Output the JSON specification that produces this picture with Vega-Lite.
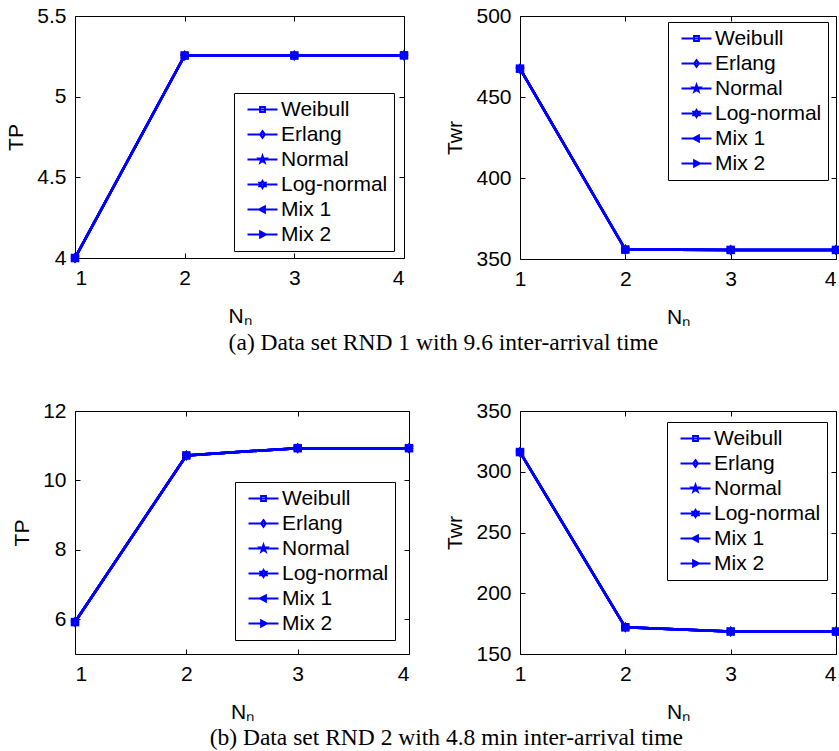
{
  "$schema": "https://vega.github.io/schema/vega-lite/v6.json",
  "padding": {"left": 5, "top": 4, "right": 0, "bottom": 2},
  "background": "white",
  "datasets": {
    "p1": [
      {"series": "Weibull", "Nn": 1, "v": 4.0}, {"series": "Weibull", "Nn": 2, "v": 5.255}, {"series": "Weibull", "Nn": 3, "v": 5.255}, {"series": "Weibull", "Nn": 4, "v": 5.256},
      {"series": "Erlang", "Nn": 1, "v": 4.0}, {"series": "Erlang", "Nn": 2, "v": 5.255}, {"series": "Erlang", "Nn": 3, "v": 5.255}, {"series": "Erlang", "Nn": 4, "v": 5.256},
      {"series": "Normal", "Nn": 1, "v": 4.0}, {"series": "Normal", "Nn": 2, "v": 5.255}, {"series": "Normal", "Nn": 3, "v": 5.255}, {"series": "Normal", "Nn": 4, "v": 5.256},
      {"series": "Log-normal", "Nn": 1, "v": 4.0}, {"series": "Log-normal", "Nn": 2, "v": 5.255}, {"series": "Log-normal", "Nn": 3, "v": 5.255}, {"series": "Log-normal", "Nn": 4, "v": 5.256},
      {"series": "Mix 1", "Nn": 1, "v": 4.0}, {"series": "Mix 1", "Nn": 2, "v": 5.255}, {"series": "Mix 1", "Nn": 3, "v": 5.255}, {"series": "Mix 1", "Nn": 4, "v": 5.256},
      {"series": "Mix 2", "Nn": 1, "v": 4.0}, {"series": "Mix 2", "Nn": 2, "v": 5.255}, {"series": "Mix 2", "Nn": 3, "v": 5.255}, {"series": "Mix 2", "Nn": 4, "v": 5.256}
    ],
    "p2": [
      {"series": "Weibull", "Nn": 1, "v": 467.5}, {"series": "Weibull", "Nn": 2, "v": 355.8}, {"series": "Weibull", "Nn": 3, "v": 355.6}, {"series": "Weibull", "Nn": 4, "v": 355.6},
      {"series": "Erlang", "Nn": 1, "v": 467.5}, {"series": "Erlang", "Nn": 2, "v": 355.8}, {"series": "Erlang", "Nn": 3, "v": 355.6}, {"series": "Erlang", "Nn": 4, "v": 355.6},
      {"series": "Normal", "Nn": 1, "v": 467.5}, {"series": "Normal", "Nn": 2, "v": 355.8}, {"series": "Normal", "Nn": 3, "v": 355.6}, {"series": "Normal", "Nn": 4, "v": 355.6},
      {"series": "Log-normal", "Nn": 1, "v": 467.5}, {"series": "Log-normal", "Nn": 2, "v": 355.8}, {"series": "Log-normal", "Nn": 3, "v": 355.6}, {"series": "Log-normal", "Nn": 4, "v": 355.6},
      {"series": "Mix 1", "Nn": 1, "v": 467.5}, {"series": "Mix 1", "Nn": 2, "v": 355.8}, {"series": "Mix 1", "Nn": 3, "v": 355.6}, {"series": "Mix 1", "Nn": 4, "v": 355.6},
      {"series": "Mix 2", "Nn": 1, "v": 467.5}, {"series": "Mix 2", "Nn": 2, "v": 355.8}, {"series": "Mix 2", "Nn": 3, "v": 355.6}, {"series": "Mix 2", "Nn": 4, "v": 355.6}
    ],
    "p3": [
      {"series": "Weibull", "Nn": 1, "v": 5.92}, {"series": "Weibull", "Nn": 2, "v": 10.72}, {"series": "Weibull", "Nn": 3, "v": 10.93}, {"series": "Weibull", "Nn": 4, "v": 10.93},
      {"series": "Erlang", "Nn": 1, "v": 5.92}, {"series": "Erlang", "Nn": 2, "v": 10.72}, {"series": "Erlang", "Nn": 3, "v": 10.93}, {"series": "Erlang", "Nn": 4, "v": 10.93},
      {"series": "Normal", "Nn": 1, "v": 5.92}, {"series": "Normal", "Nn": 2, "v": 10.72}, {"series": "Normal", "Nn": 3, "v": 10.93}, {"series": "Normal", "Nn": 4, "v": 10.93},
      {"series": "Log-normal", "Nn": 1, "v": 5.92}, {"series": "Log-normal", "Nn": 2, "v": 10.72}, {"series": "Log-normal", "Nn": 3, "v": 10.93}, {"series": "Log-normal", "Nn": 4, "v": 10.93},
      {"series": "Mix 1", "Nn": 1, "v": 5.92}, {"series": "Mix 1", "Nn": 2, "v": 10.72}, {"series": "Mix 1", "Nn": 3, "v": 10.93}, {"series": "Mix 1", "Nn": 4, "v": 10.93},
      {"series": "Mix 2", "Nn": 1, "v": 5.92}, {"series": "Mix 2", "Nn": 2, "v": 10.72}, {"series": "Mix 2", "Nn": 3, "v": 10.93}, {"series": "Mix 2", "Nn": 4, "v": 10.93}
    ],
    "p4": [
      {"series": "Weibull", "Nn": 1, "v": 316.2}, {"series": "Weibull", "Nn": 2, "v": 172.0}, {"series": "Weibull", "Nn": 3, "v": 168.5}, {"series": "Weibull", "Nn": 4, "v": 168.5},
      {"series": "Erlang", "Nn": 1, "v": 316.2}, {"series": "Erlang", "Nn": 2, "v": 172.0}, {"series": "Erlang", "Nn": 3, "v": 168.5}, {"series": "Erlang", "Nn": 4, "v": 168.5},
      {"series": "Normal", "Nn": 1, "v": 316.2}, {"series": "Normal", "Nn": 2, "v": 172.0}, {"series": "Normal", "Nn": 3, "v": 168.5}, {"series": "Normal", "Nn": 4, "v": 168.5},
      {"series": "Log-normal", "Nn": 1, "v": 316.2}, {"series": "Log-normal", "Nn": 2, "v": 172.0}, {"series": "Log-normal", "Nn": 3, "v": 168.5}, {"series": "Log-normal", "Nn": 4, "v": 168.5},
      {"series": "Mix 1", "Nn": 1, "v": 316.2}, {"series": "Mix 1", "Nn": 2, "v": 172.0}, {"series": "Mix 1", "Nn": 3, "v": 168.5}, {"series": "Mix 1", "Nn": 4, "v": 168.5},
      {"series": "Mix 2", "Nn": 1, "v": 316.2}, {"series": "Mix 2", "Nn": 2, "v": 172.0}, {"series": "Mix 2", "Nn": 3, "v": 168.5}, {"series": "Mix 2", "Nn": 4, "v": 168.5}
    ]
  },
  "config": {
    "view": {"stroke": "black", "strokeWidth": 1},
    "font": "Liberation Sans",
    "axis": {
      "labelFont": "Liberation Sans", "labelFontSize": 21, "labelColor": "black",
      "titleFont": "Liberation Sans", "titleFontSize": 21, "titleFontWeight": "normal", "titleColor": "black",
      "domain": false, "grid": false, "ticks": true, "tickSize": -5, "tickColor": "black", "tickWidth": 1,
      "labelPadding": 14, "titlePadding": 10
    },
    "axisX": {"titlePadding": 17},
    "legend": {
      "labelFont": "Liberation Sans", "labelFontSize": 21, "labelColor": "black",
      "strokeColor": "black", "fillColor": "white", "padding": 6, "rowPadding": 3,
      "symbolSize": 36, "symbolOffset": 12, "labelOffset": 8, "symbolStrokeWidth": 2,
      "symbolStrokeColor": "#0000ff", "symbolFillColor": "#0000ff", "labelLimit": 400,
      "labelExpr": "datum.label + '  '"
    }
  },
  "spacing": 45,
  "vconcat": [
    {
      "title": {"text": "(a) Data set RND 1 with 9.6 inter-arrival time", "orient": "bottom", "anchor": "middle", "font": "Liberation Serif", "fontSize": 23.5, "fontWeight": "normal", "color": "black", "offset": 3, "dx": 20},
      "spacing": 34,
      "hconcat": [
        {
          "width": 329, "height": 242,
          "data": {"name": "p1"},
          "layer": [
            {"mark": {"type": "line", "color": "#0000ff", "strokeWidth": 2.5},
             "encoding": {
               "x": {"field": "Nn", "type": "quantitative", "scale": {"domain": [1, 4], "nice": false, "zero": false}, "axis": {"values": [1, 2, 3, 4], "format": "d", "title": "Nₙ"}},
               "y": {"field": "v", "type": "quantitative", "scale": {"domain": [4, 5.5], "nice": false, "zero": false}, "axis": {"values": [4, 4.5, 5, 5.5], "format": "~g", "title": "TP"}},
               "detail": {"field": "series"}}},
            {"mark": {"type": "point", "filled": true, "color": "#0000ff", "size": 72, "opacity": 1},
             "encoding": {
               "x": {"field": "Nn", "type": "quantitative", "axis": null},
               "y": {"field": "v", "type": "quantitative", "axis": null},
               "shape": {"field": "series", "type": "nominal", "legend": null, "scale": {"domain": ["Weibull", "Erlang", "Normal", "Log-normal", "Mix 1", "Mix 2"], "range": ["M-1,-1H1V1H-1Z", "M0,-1.3L1,0L0,1.3L-1,0Z", "M0,-1.2L0.27,-0.372L1.141,-0.371L0.437,0.142L0.705,0.971L0,0.46L-0.705,0.971L-0.437,0.142L-1.141,-0.371L-0.27,-0.372Z", "M0,-1.2L0.346,-0.6L1.039,-0.6L0.693,0L1.039,0.6L0.346,0.6L0,1.2L-0.346,0.6L-1.039,0.6L-0.693,0L-1.039,-0.6L-0.346,-0.6Z", "M-1.1,0L0.8,-1L0.8,1Z", "M1.1,0L-0.8,-1L-0.8,1Z"]}}}},
            {"transform": [{"filter": "false"}],
             "mark": {"type": "point", "filled": false, "stroke": "#0000ff", "strokeWidth": 2, "opacity": 1},
             "encoding": {
               "x": {"field": "Nn", "type": "quantitative", "axis": {"orient": "top", "labels": false, "title": null, "values": [1, 2, 3, 4]}},
               "y": {"field": "v", "type": "quantitative", "axis": {"orient": "right", "labels": false, "title": null, "values": [4, 4.5, 5, 5.5]}},
               "shape": {"field": "series", "type": "nominal", "legend": {"title": null, "orient": "none", "legendX": 159, "legendY": 77, "encode": {"symbols": {"update": {"stroke": {"value": "#0000ff"}, "strokeWidth": {"value": 2}, "fill": {"value": "#0000ff"}, "opacity": {"value": 1}}}}}, "scale": {"domain": ["Weibull", "Erlang", "Normal", "Log-normal", "Mix 1", "Mix 2"], "range": ["M-5,0L5,0M-0.8,-0.8L0.8,-0.8L0.8,0.8L-0.8,0.8Z", "M-5,0L5,0M0,-1.1L0.8,0L0,1.1L-0.8,0Z", "M-5,0L5,0M0,-1.2L0.27,-0.372L1.141,-0.371L0.437,0.142L0.705,0.971L0,0.46L-0.705,0.971L-0.437,0.142L-1.141,-0.371L-0.27,-0.372Z", "M-5,0L5,0M0,-1.2L0.346,-0.6L1.039,-0.6L0.693,0L1.039,0.6L0.346,0.6L0,1.2L-0.346,0.6L-1.039,0.6L-0.693,0L-1.039,-0.6L-0.346,-0.6Z", "M-5,0L5,0M-1.1,0L0.8,-1L0.8,1Z", "M-5,0L5,0M1.1,0L-0.8,-1L-0.8,1Z"]}}}}
          ],
          "resolve": {"scale": {"shape": "independent"}, "axis": {"x": "independent", "y": "independent"}}
        },
        {
          "width": 316, "height": 243,
          "data": {"name": "p2"},
          "layer": [
            {"mark": {"type": "line", "color": "#0000ff", "strokeWidth": 2.5},
             "encoding": {
               "x": {"field": "Nn", "type": "quantitative", "scale": {"domain": [1, 4], "nice": false, "zero": false}, "axis": {"values": [1, 2, 3, 4], "format": "d", "title": "Nₙ", "labelAlign": {"condition": {"test": "datum.value == 4", "value": "right"}, "value": "center"}}},
               "y": {"field": "v", "type": "quantitative", "scale": {"domain": [350, 500], "nice": false, "zero": false}, "axis": {"values": [350, 400, 450, 500], "format": "d", "title": "Twr"}},
               "detail": {"field": "series"}}},
            {"mark": {"type": "point", "filled": true, "color": "#0000ff", "size": 72, "opacity": 1},
             "encoding": {
               "x": {"field": "Nn", "type": "quantitative", "axis": null},
               "y": {"field": "v", "type": "quantitative", "axis": null},
               "shape": {"field": "series", "type": "nominal", "legend": null, "scale": {"domain": ["Weibull", "Erlang", "Normal", "Log-normal", "Mix 1", "Mix 2"], "range": ["M-1,-1H1V1H-1Z", "M0,-1.3L1,0L0,1.3L-1,0Z", "M0,-1.2L0.27,-0.372L1.141,-0.371L0.437,0.142L0.705,0.971L0,0.46L-0.705,0.971L-0.437,0.142L-1.141,-0.371L-0.27,-0.372Z", "M0,-1.2L0.346,-0.6L1.039,-0.6L0.693,0L1.039,0.6L0.346,0.6L0,1.2L-0.346,0.6L-1.039,0.6L-0.693,0L-1.039,-0.6L-0.346,-0.6Z", "M-1.1,0L0.8,-1L0.8,1Z", "M1.1,0L-0.8,-1L-0.8,1Z"]}}}},
            {"transform": [{"filter": "false"}],
             "mark": {"type": "point", "filled": false, "stroke": "#0000ff", "strokeWidth": 2, "opacity": 1},
             "encoding": {
               "x": {"field": "Nn", "type": "quantitative", "axis": {"orient": "top", "labels": false, "title": null, "values": [1, 2, 3, 4]}},
               "y": {"field": "v", "type": "quantitative", "axis": {"orient": "right", "labels": false, "title": null, "values": [350, 400, 450, 500]}},
               "shape": {"field": "series", "type": "nominal", "legend": {"title": null, "orient": "none", "legendX": 148, "legendY": 6, "encode": {"symbols": {"update": {"stroke": {"value": "#0000ff"}, "strokeWidth": {"value": 2}, "fill": {"value": "#0000ff"}, "opacity": {"value": 1}}}}}, "scale": {"domain": ["Weibull", "Erlang", "Normal", "Log-normal", "Mix 1", "Mix 2"], "range": ["M-5,0L5,0M-0.8,-0.8L0.8,-0.8L0.8,0.8L-0.8,0.8Z", "M-5,0L5,0M0,-1.1L0.8,0L0,1.1L-0.8,0Z", "M-5,0L5,0M0,-1.2L0.27,-0.372L1.141,-0.371L0.437,0.142L0.705,0.971L0,0.46L-0.705,0.971L-0.437,0.142L-1.141,-0.371L-0.27,-0.372Z", "M-5,0L5,0M0,-1.2L0.346,-0.6L1.039,-0.6L0.693,0L1.039,0.6L0.346,0.6L0,1.2L-0.346,0.6L-1.039,0.6L-0.693,0L-1.039,-0.6L-0.346,-0.6Z", "M-5,0L5,0M-1.1,0L0.8,-1L0.8,1Z", "M-5,0L5,0M1.1,0L-0.8,-1L-0.8,1Z"]}}}}
          ],
          "resolve": {"scale": {"shape": "independent"}, "axis": {"x": "independent", "y": "independent"}}
        }
      ]
    },
    {
      "title": {"text": "(b) Data set RND 2 with 4.8 min inter-arrival time", "orient": "bottom", "anchor": "middle", "font": "Liberation Serif", "fontSize": 23.5, "fontWeight": "normal", "color": "black", "offset": 3, "dx": 20},
      "spacing": 29,
      "hconcat": [
        {
          "width": 334, "height": 243,
          "data": {"name": "p3"},
          "layer": [
            {"mark": {"type": "line", "color": "#0000ff", "strokeWidth": 2.5},
             "encoding": {
               "x": {"field": "Nn", "type": "quantitative", "scale": {"domain": [1, 4], "nice": false, "zero": false}, "axis": {"values": [1, 2, 3, 4], "format": "d", "title": "Nₙ"}},
               "y": {"field": "v", "type": "quantitative", "scale": {"domain": [5, 12], "nice": false, "zero": false}, "axis": {"values": [6, 8, 10, 12], "format": "d", "title": "TP"}},
               "detail": {"field": "series"}}},
            {"mark": {"type": "point", "filled": true, "color": "#0000ff", "size": 72, "opacity": 1},
             "encoding": {
               "x": {"field": "Nn", "type": "quantitative", "axis": null},
               "y": {"field": "v", "type": "quantitative", "axis": null},
               "shape": {"field": "series", "type": "nominal", "legend": null, "scale": {"domain": ["Weibull", "Erlang", "Normal", "Log-normal", "Mix 1", "Mix 2"], "range": ["M-1,-1H1V1H-1Z", "M0,-1.3L1,0L0,1.3L-1,0Z", "M0,-1.2L0.27,-0.372L1.141,-0.371L0.437,0.142L0.705,0.971L0,0.46L-0.705,0.971L-0.437,0.142L-1.141,-0.371L-0.27,-0.372Z", "M0,-1.2L0.346,-0.6L1.039,-0.6L0.693,0L1.039,0.6L0.346,0.6L0,1.2L-0.346,0.6L-1.039,0.6L-0.693,0L-1.039,-0.6L-0.346,-0.6Z", "M-1.1,0L0.8,-1L0.8,1Z", "M1.1,0L-0.8,-1L-0.8,1Z"]}}}},
            {"transform": [{"filter": "false"}],
             "mark": {"type": "point", "filled": false, "stroke": "#0000ff", "strokeWidth": 2, "opacity": 1},
             "encoding": {
               "x": {"field": "Nn", "type": "quantitative", "axis": {"orient": "top", "labels": false, "title": null, "values": [1, 2, 3, 4]}},
               "y": {"field": "v", "type": "quantitative", "axis": {"orient": "right", "labels": false, "title": null, "values": [6, 8, 10, 12]}},
               "shape": {"field": "series", "type": "nominal", "legend": {"title": null, "orient": "none", "legendX": 160, "legendY": 71, "encode": {"symbols": {"update": {"stroke": {"value": "#0000ff"}, "strokeWidth": {"value": 2}, "fill": {"value": "#0000ff"}, "opacity": {"value": 1}}}}}, "scale": {"domain": ["Weibull", "Erlang", "Normal", "Log-normal", "Mix 1", "Mix 2"], "range": ["M-5,0L5,0M-0.8,-0.8L0.8,-0.8L0.8,0.8L-0.8,0.8Z", "M-5,0L5,0M0,-1.1L0.8,0L0,1.1L-0.8,0Z", "M-5,0L5,0M0,-1.2L0.27,-0.372L1.141,-0.371L0.437,0.142L0.705,0.971L0,0.46L-0.705,0.971L-0.437,0.142L-1.141,-0.371L-0.27,-0.372Z", "M-5,0L5,0M0,-1.2L0.346,-0.6L1.039,-0.6L0.693,0L1.039,0.6L0.346,0.6L0,1.2L-0.346,0.6L-1.039,0.6L-0.693,0L-1.039,-0.6L-0.346,-0.6Z", "M-5,0L5,0M-1.1,0L0.8,-1L0.8,1Z", "M-5,0L5,0M1.1,0L-0.8,-1L-0.8,1Z"]}}}}
          ],
          "resolve": {"scale": {"shape": "independent"}, "axis": {"x": "independent", "y": "independent"}}
        },
        {
          "width": 316, "height": 243,
          "data": {"name": "p4"},
          "layer": [
            {"mark": {"type": "line", "color": "#0000ff", "strokeWidth": 2.5},
             "encoding": {
               "x": {"field": "Nn", "type": "quantitative", "scale": {"domain": [1, 4], "nice": false, "zero": false}, "axis": {"values": [1, 2, 3, 4], "format": "d", "title": "Nₙ", "labelAlign": {"condition": {"test": "datum.value == 4", "value": "right"}, "value": "center"}}},
               "y": {"field": "v", "type": "quantitative", "scale": {"domain": [150, 350], "nice": false, "zero": false}, "axis": {"values": [150, 200, 250, 300, 350], "format": "d", "title": "Twr"}},
               "detail": {"field": "series"}}},
            {"mark": {"type": "point", "filled": true, "color": "#0000ff", "size": 72, "opacity": 1},
             "encoding": {
               "x": {"field": "Nn", "type": "quantitative", "axis": null},
               "y": {"field": "v", "type": "quantitative", "axis": null},
               "shape": {"field": "series", "type": "nominal", "legend": null, "scale": {"domain": ["Weibull", "Erlang", "Normal", "Log-normal", "Mix 1", "Mix 2"], "range": ["M-1,-1H1V1H-1Z", "M0,-1.3L1,0L0,1.3L-1,0Z", "M0,-1.2L0.27,-0.372L1.141,-0.371L0.437,0.142L0.705,0.971L0,0.46L-0.705,0.971L-0.437,0.142L-1.141,-0.371L-0.27,-0.372Z", "M0,-1.2L0.346,-0.6L1.039,-0.6L0.693,0L1.039,0.6L0.346,0.6L0,1.2L-0.346,0.6L-1.039,0.6L-0.693,0L-1.039,-0.6L-0.346,-0.6Z", "M-1.1,0L0.8,-1L0.8,1Z", "M1.1,0L-0.8,-1L-0.8,1Z"]}}}},
            {"transform": [{"filter": "false"}],
             "mark": {"type": "point", "filled": false, "stroke": "#0000ff", "strokeWidth": 2, "opacity": 1},
             "encoding": {
               "x": {"field": "Nn", "type": "quantitative", "axis": {"orient": "top", "labels": false, "title": null, "values": [1, 2, 3, 4]}},
               "y": {"field": "v", "type": "quantitative", "axis": {"orient": "right", "labels": false, "title": null, "values": [150, 200, 250, 300, 350]}},
               "shape": {"field": "series", "type": "nominal", "legend": {"title": null, "orient": "none", "legendX": 147, "legendY": 11, "encode": {"symbols": {"update": {"stroke": {"value": "#0000ff"}, "strokeWidth": {"value": 2}, "fill": {"value": "#0000ff"}, "opacity": {"value": 1}}}}}, "scale": {"domain": ["Weibull", "Erlang", "Normal", "Log-normal", "Mix 1", "Mix 2"], "range": ["M-5,0L5,0M-0.8,-0.8L0.8,-0.8L0.8,0.8L-0.8,0.8Z", "M-5,0L5,0M0,-1.1L0.8,0L0,1.1L-0.8,0Z", "M-5,0L5,0M0,-1.2L0.27,-0.372L1.141,-0.371L0.437,0.142L0.705,0.971L0,0.46L-0.705,0.971L-0.437,0.142L-1.141,-0.371L-0.27,-0.372Z", "M-5,0L5,0M0,-1.2L0.346,-0.6L1.039,-0.6L0.693,0L1.039,0.6L0.346,0.6L0,1.2L-0.346,0.6L-1.039,0.6L-0.693,0L-1.039,-0.6L-0.346,-0.6Z", "M-5,0L5,0M-1.1,0L0.8,-1L0.8,1Z", "M-5,0L5,0M1.1,0L-0.8,-1L-0.8,1Z"]}}}}
          ],
          "resolve": {"scale": {"shape": "independent"}, "axis": {"x": "independent", "y": "independent"}}
        }
      ]
    }
  ]
}
